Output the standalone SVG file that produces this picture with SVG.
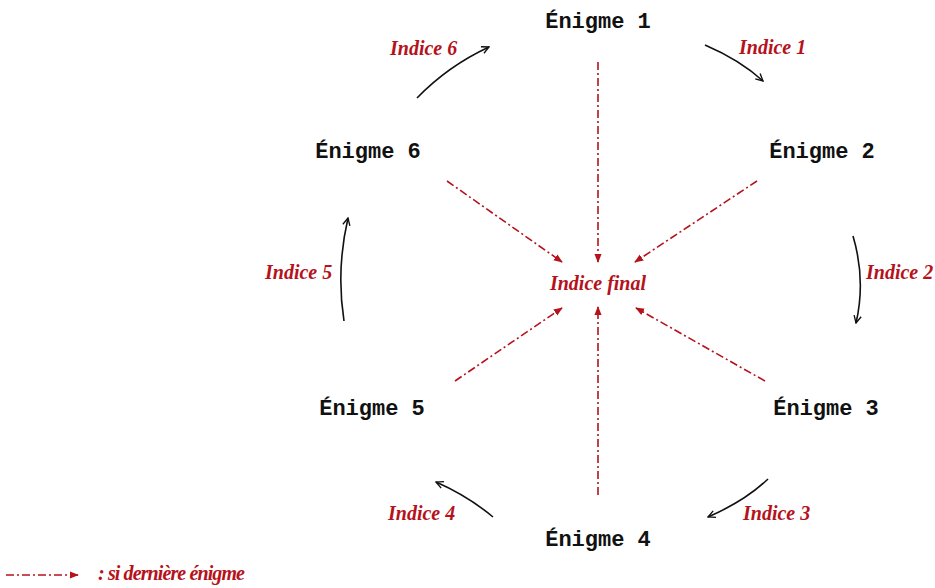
<svg xmlns="http://www.w3.org/2000/svg" width="935" height="588" viewBox="0 0 935 588">
<style>
.en{font-family:"Liberation Mono","Courier New",monospace;font-weight:bold;font-size:22px;fill:#111;text-anchor:middle}
.ind{font-family:"Liberation Serif","Times New Roman",serif;font-weight:bold;font-style:italic;font-size:20px;fill:#b5121b}
.cyc{fill:none;stroke:#111;stroke-width:1.6;marker-end:url(#ah)}
.fin{fill:none;stroke:#b5121b;stroke-width:1.6;stroke-dasharray:8 3 2 3;marker-end:url(#rh)}
</style>
<defs>
<marker id="ah" viewBox="0 0 10 10" refX="9" refY="5" markerWidth="9" markerHeight="9" markerUnits="userSpaceOnUse" orient="auto"><path d="M1,1 L9,5 L1,9" fill="none" stroke="#111" stroke-width="1.5"/></marker>
<marker id="rh" viewBox="0 0 10 10" refX="9" refY="5" markerWidth="9" markerHeight="9" markerUnits="userSpaceOnUse" orient="auto"><path d="M0,1 L10,5 L0,9 Z" fill="#b5121b"/></marker>
</defs>
<rect width="935" height="588" fill="#fff"/>
<g id="enigme1"><text class="en" x="598" y="28">Énigme 1</text></g>
<g id="enigme2"><text class="en" x="822" y="158">Énigme 2</text></g>
<g id="enigme3"><text class="en" x="826" y="415">Énigme 3</text></g>
<g id="enigme4"><text class="en" x="598" y="546">Énigme 4</text></g>
<g id="enigme5"><text class="en" x="372" y="415">Énigme 5</text></g>
<g id="enigme6"><text class="en" x="368" y="158">Énigme 6</text></g>
<g id="indice-final"><text class="ind" x="598" y="290" text-anchor="middle">Indice final</text></g>
<g id="labels">
<text class="ind" x="390" y="55">Indice 6</text>
<text class="ind" x="739" y="54">Indice 1</text>
<text class="ind" x="866" y="279">Indice 2</text>
<text class="ind" x="743" y="520">Indice 3</text>
<text class="ind" x="388" y="520">Indice 4</text>
<text class="ind" x="265" y="279">Indice 5</text>
</g>
<g id="connectors">
<path class="cyc" d="M417,98 Q448,66 489,47"/>
<path class="cyc" d="M705,45 Q740,60 763,81"/>
<path class="cyc" d="M853,236 Q866,280 856,323"/>
<path class="cyc" d="M768,479 Q745,501 708,517"/>
<path class="cyc" d="M493,517 Q468,496 436,482"/>
<path class="cyc" d="M344,321 Q336,270 348,218"/>
<path class="fin" d="M598,62 L598,262"/>
<path class="fin" d="M447,181 L562,262"/>
<path class="fin" d="M757,181 L635,262"/>
<path class="fin" d="M455,381 L562,308"/>
<path class="fin" d="M598,495 L598,307"/>
<path class="fin" d="M765,381 L636,308"/>
</g>
<g id="legend">
<path class="fin" d="M6,575 L78,575"/>
<text class="ind" x="98" y="580" font-size="15" textLength="147" lengthAdjust="spacing">: si dernière énigme</text>
</g>
</svg>
